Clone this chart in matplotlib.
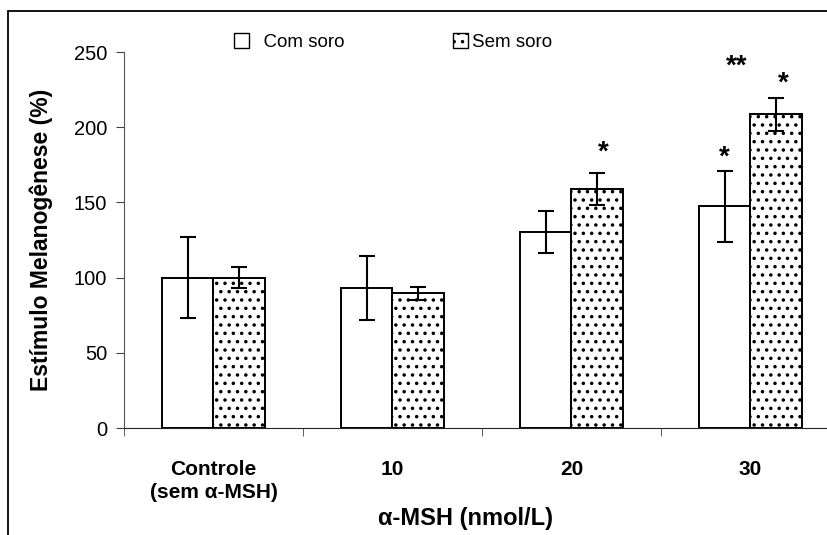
import numpy as np
import matplotlib
matplotlib.use('Agg')
import matplotlib.pyplot as plt
from matplotlib.patches import Rectangle, Patch

plt.rcParams['font.family'] = ['Liberation Sans', 'DejaVu Sans']
plt.rcParams['hatch.color'] = '#6a6a6a'
plt.rcParams['hatch.linewidth'] = 1.3

categories = ['Controle\n(sem α-MSH)', '10', '20', '30']
com_soro = [100, 93, 130.5, 147.5]
com_err = [27, 21.5, 14, 23.5]
sem_soro = [100, 89.5, 159, 208.5]
sem_err = [7, 4.5, 10.5, 11]
# (category, x offset, y, text)
stars = [(2, 0.18, 183, '*'), (3, -0.145, 180, '*'),
         (3, -0.08, 240, '**'), (3, 0.185, 229, '*')]

x = np.arange(len(categories))
w = 0.29

fig = plt.figure(figsize=(8.28, 5.35), dpi=100)
ax = fig.add_axes([124 / 828, 107 / 535, 716 / 828, 376 / 535])

ax.bar(x - w / 2, com_soro, w, color='white', edgecolor='black', lw=1.4,
       yerr=com_err, error_kw=dict(ecolor='black', elinewidth=1.5, capsize=6, capthick=1.5))
ax.bar(x + w / 2, sem_soro, w, color='white', edgecolor='black', lw=1.4, hatch='..',
       yerr=sem_err, error_kw=dict(ecolor='black', elinewidth=1.5, capsize=6, capthick=1.5))

for i, dx, y, s in stars:
    ax.text(x[i] + dx, y, s, ha='center', va='center', fontsize=20, fontweight='bold')

ax.set_xlim(-0.5, 3.5)
ax.set_ylim(0, 250)
ax.set_yticks([0, 50, 100, 150, 200, 250])
ax.set_xticks(x)
ax.set_xticklabels(categories, fontsize=15, fontweight='bold', linespacing=1.3)
ax.set_xticks(np.arange(-0.5, 4, 1), minor=True)
ax.tick_params(axis='x', which='major', length=0, pad=23)
ax.tick_params(axis='x', which='minor', length=6, direction='out', color='#444444')
ax.tick_params(axis='y', length=6, direction='out', labelsize=14.5, pad=6, color='#444444')
for s in ['top', 'right']:
    ax.spines[s].set_visible(False)
ax.spines['left'].set_color('#555555')
ax.spines['bottom'].set_color('#222222')

ax.set_ylabel('Estímulo Melanogênese (%)', fontsize=16.5, fontweight='bold', labelpad=15)
fig.text(466 / 828, 1 - 518 / 535, 'α-MSH (nmol/L)', ha='center', va='center',
         fontsize=17, fontweight='bold')

handles = [Patch(facecolor='white', edgecolor='black', lw=1),
           Patch(facecolor='white', edgecolor='black', lw=1, hatch='..')]
fig.legend(handles, ['  Com soro', 'Sem soro'], loc='center', bbox_to_anchor=(393 / 828, 1 - 42 / 535),
           ncol=2, frameon=False, fontsize=13.5, handlelength=0.8, handleheight=0.9,
           columnspacing=5.8, handletextpad=0.2)

fig.add_artist(Rectangle((8 / 828, -0.1), 1.2, 0.1 + (535 - 11) / 535, transform=fig.transFigure,
                         fill=False, lw=1.3, edgecolor='black'))

fig.savefig('out.png', dpi=100)
